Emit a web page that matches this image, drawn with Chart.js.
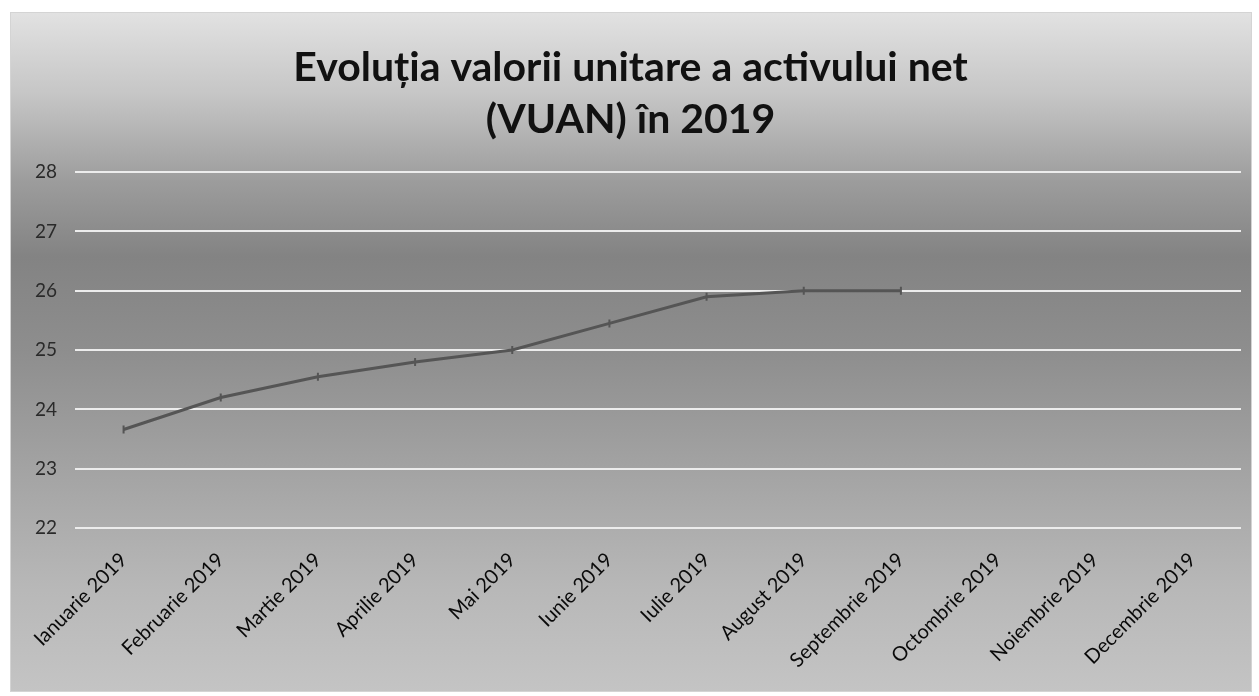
<!DOCTYPE html>
<html>
<head>
<meta charset="utf-8">
<script src="https://cdn.jsdelivr.net/npm/chart.js@4"></script>
<style>
  html, body { margin: 0; padding: 0; background: #ffffff; }
  #wrap { width: 1259px; height: 696px; }
</style>
</head>
<body>
<div id="wrap"><canvas id="vuanChart" width="1259" height="696"></canvas></div>
<script>
// luni si valori VUAN
const luni = ['Ianuarie 2019', 'Februarie 2019', 'Martie 2019', 'Aprilie 2019', 'Mai 2019', 'Iunie 2019',
  'Iulie 2019', 'August 2019', 'Septembrie 2019', 'Octombrie 2019', 'Noiembrie 2019', 'Decembrie 2019'];
const valoriVuan = [23.66, 24.2, 24.55, 24.8, 25.0, 25.45, 25.9, 26.0, 26.0, null, null, null];
const axaMin = 22;
const axaMax = 28;
const pasAxa = 1;

const titluLinii = ['Evoluția valorii unitare a activului net', '(VUAN) în 2019'];

// fundalul gri cu degrade, ca la scanare
const fundal = {
  id: 'fundal',
  beforeDraw(chart) {
    const ctx = chart.ctx;
    ctx.save();
    ctx.fillStyle = '#ffffff';
    ctx.fillRect(0, 0, chart.width, chart.height);
    const g = ctx.createLinearGradient(0, 12, 0, 692);
    g.addColorStop(0, '#e2e2e2');
    g.addColorStop(0.12, '#c6c6c6');
    g.addColorStop(0.25, '#9c9c9c');
    g.addColorStop(0.36, '#838383');
    g.addColorStop(0.5, '#8e8e8e');
    g.addColorStop(0.68, '#a4a4a4');
    g.addColorStop(0.85, '#b8b8b8');
    g.addColorStop(1, '#c4c4c4');
    ctx.fillStyle = g;
    ctx.fillRect(10, 12, 1242, 680);
    ctx.strokeStyle = '#d4d4d4';
    ctx.lineWidth = 1;
    ctx.strokeRect(10.5, 12.5, 1241, 679);
    ctx.restore();
  }
};

const ctx = document.getElementById('vuanChart').getContext('2d');
const vuanChart = new Chart(ctx, {
  type: 'line',
  data: {
    labels: luni,
    datasets: [{
      label: 'VUAN',
      data: valoriVuan,
      borderColor: '#555555',
      backgroundColor: '#555555',
      borderWidth: 3,
      pointStyle: 'line',
      rotation: 90,
      pointRadius: 4,
      pointBorderWidth: 2,
      tension: 0,
      spanGaps: false
    }]
  },
  options: {
    responsive: false,
    animation: false,
    layout: { padding: { left: 20, right: 18, top: 0, bottom: 10 } },
    plugins: {
      legend: { display: false },
      tooltip: { enabled: false },
      title: {
        display: true,
        text: titluLinii,
        color: '#111111',
        font: { family: 'Lato', size: 41, weight: 'bold', lineHeight: 1.27 },
        padding: { top: 42, bottom: 26 }
      }
    },
    scales: {
      x: {
        offset: true,
        grid: { display: false, drawTicks: false },
        border: { display: false },
        ticks: {
          color: '#0a0a0a',
          font: { family: 'Lato', size: 20 },
          minRotation: 45,
          maxRotation: 45,
          padding: 20,
          autoSkip: false
        },
        afterFit(scale) { scale.height = 158; }
      },
      y: {
        min: axaMin,
        max: axaMax,
        grid: { color: '#ececec', lineWidth: 2, drawTicks: false },
        border: { display: false },
        ticks: {
          stepSize: pasAxa,
          color: '#2a2a2a',
          font: { family: 'Lato', size: 19 },
          padding: 18
        },
        afterFit(scale) { scale.width = 55; }
      }
    }
  },
  plugins: [fundal]
});
</script>
</body>
</html>
